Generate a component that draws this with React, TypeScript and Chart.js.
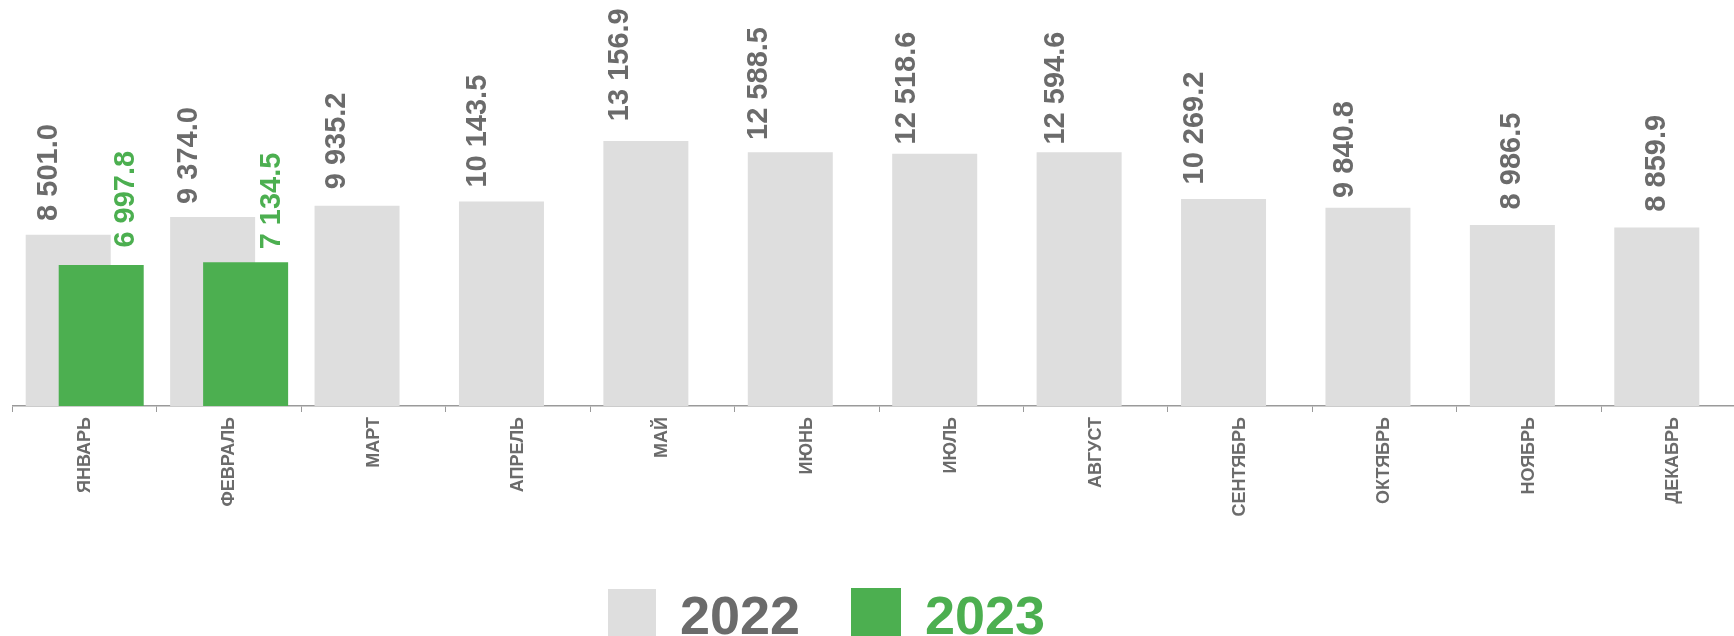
import React, { useEffect, useRef } from "react";
import { Chart, registerables } from "chart.js";

Chart.register(...registerables);

const months = ["ЯНВАРЬ", "ФЕВРАЛЬ", "МАРТ", "АПРЕЛЬ", "МАЙ", "ИЮНЬ", "ИЮЛЬ", "АВГУСТ", "СЕНТЯБРЬ", "ОКТЯБРЬ", "НОЯБРЬ", "ДЕКАБРЬ"];
const values2022 = [8501.0, 9374.0, 9935.2, 10143.5, 13156.9, 12588.5, 12518.6, 12594.6, 10269.2, 9840.8, 8986.5, 8859.9];
const values2023: (number | null)[] = [6997.8, 7134.5, null, null, null, null, null, null, null, null, null, null];
const seriesNames = ["2022", "2023"];

// label placement styles (horizontal shift from bar centre, gap above bar top)
const labelDx2022 = [-18.8, -23.3, -20, -23.5, -26, -31.5, -28, -23.5, -29, -22.7, 0, 0];
const labelGap2022 = [13.8, 13.2, 16.5, 14, 19.7, 12.4, 9.3, 7.7, 14.6, 9.8, 15.5, 15.8];
const labelDx2023 = [24.7, 26.5];
const labelGap2023 = [17.4, 12.9];

const GRAY = "#dedede";
const GREEN = "#4caf50";
const TEXT_GRAY = "#6b6b6b";
const FONT = "'Liberation Sans', Arial, sans-serif";

function fmt(v: number): string {
  const [i, d] = v.toFixed(1).split(".");
  return i.replace(/\B(?=(\d{3})+(?!\d))/g, " ") + "." + d;
}

// draw the second (2023) series on top of the first one
let redrawing = false;
const drawOrder = {
  id: "drawOrder",
  beforeDatasetDraw(chart: any, args: any) {
    if (args.index === 1 && !redrawing) return false;
    return true;
  },
  afterDatasetDraw(chart: any, args: any) {
    if (args.index === 0) {
      const meta = chart.getDatasetMeta(1);
      if (meta && !meta.hidden) {
        redrawing = true;
        meta.controller.draw();
        redrawing = false;
      }
    }
  },
};

const valueLabels = {
  id: "valueLabels",
  afterDatasetsDraw(chart: any) {
    const ctx = chart.ctx;
    ctx.save();
    ctx.font = `bold 29px ${FONT}`;
    ctx.textAlign = "left";
    ctx.textBaseline = "middle";
    chart.data.datasets.forEach((ds: any, di: number) => {
      const meta = chart.getDatasetMeta(di);
      meta.data.forEach((el: any, j: number) => {
        const v = ds.data[j];
        if (v === null || v === undefined) return;
        const dx = di === 0 ? labelDx2022[j] : labelDx2023[j] ?? 25;
        const gap = di === 0 ? labelGap2022[j] : labelGap2023[j] ?? 15;
        ctx.save();
        ctx.translate(el.x + dx, el.y - gap);
        ctx.rotate(-Math.PI / 2);
        ctx.fillStyle = di === 0 ? TEXT_GRAY : GREEN;
        ctx.fillText(fmt(v), 0, 0);
        ctx.restore();
      });
    });
    ctx.restore();
  },
};

export default function App() {
  const ref = useRef<HTMLCanvasElement>(null);
  useEffect(() => {
    document.body.style.margin = "0";
    document.body.style.overflow = "hidden";
    Chart.defaults.font.family = FONT;
    const chart = new Chart(ref.current!, {
      type: "bar",
      data: {
        labels: months,
        datasets: [
          { label: seriesNames[0], data: values2022, backgroundColor: GRAY, borderWidth: 0 },
          { label: seriesNames[1], data: values2023, backgroundColor: GREEN, borderWidth: 0 },
        ],
      },
      options: {
        animation: false,
        responsive: false,
        devicePixelRatio: 1,
        datasets: { bar: { categoryPercentage: 0.457, barPercentage: 2.576 } },
        layout: { padding: { left: 12.5, right: 14.5, top: 3, bottom: 0 } },
        plugins: { legend: { display: false }, tooltip: { enabled: false } },
        scales: {
          x: {
            afterFit: (scale: any) => {
              scale.height = 230;
            },
            grid: {
              display: true,
              drawOnChartArea: false,
              drawTicks: true,
              tickLength: 6,
              color: "#9a9a9a",
              offset: true,
            },
            border: { display: true, color: "#9a9a9a", width: 1.5 },
            ticks: {
              autoSkip: false,
              minRotation: 90,
              maxRotation: 90,
              padding: 5,
              color: TEXT_GRAY,
              font: { family: FONT, size: 18, weight: "bold" },
            },
          },
          y: { display: false, min: 0, max: 20000 },
        },
      },
      plugins: [drawOrder, valueLabels],
    } as any);
    return () => chart.destroy();
  }, []);

  const legendText: React.CSSProperties = {
    position: "absolute",
    top: 588,
    fontFamily: FONT,
    fontWeight: "bold",
    fontSize: 54,
    lineHeight: "54px",
    whiteSpace: "nowrap",
  };

  return (
    <div style={{ position: "absolute", left: 0, top: 0, width: 1734, height: 636, overflow: "hidden", background: "#fff" }}>
      <canvas ref={ref} width={1760} height={636} style={{ display: "block" }} />
      <div style={{ position: "absolute", left: 608, top: 589, width: 48, height: 48, background: GRAY }} />
      <div style={{ ...legendText, left: 680, color: TEXT_GRAY }}>{seriesNames[0]}</div>
      <div style={{ position: "absolute", left: 851, top: 588, width: 50, height: 50, background: GREEN }} />
      <div style={{ ...legendText, left: 925, color: GREEN }}>{seriesNames[1]}</div>
    </div>
  );
}
